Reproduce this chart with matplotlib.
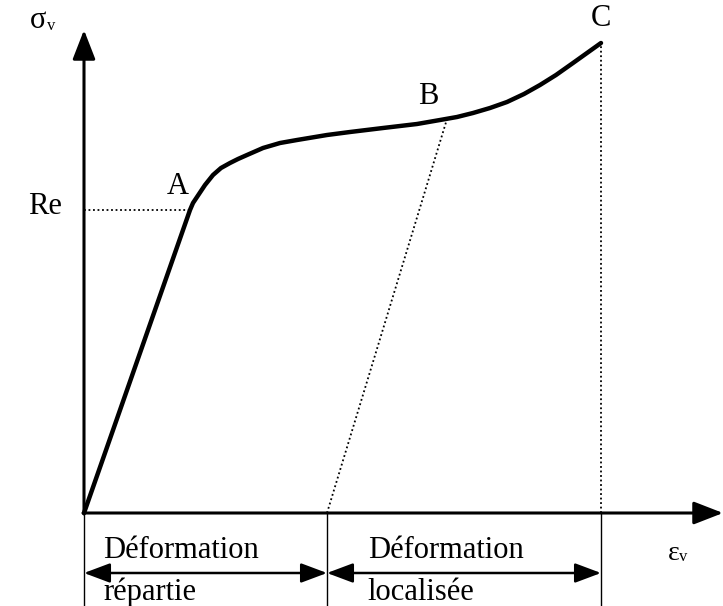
import matplotlib.pyplot as plt

# curve (strain, stress), origin at the axes crossing
strain = [0, 106, 109, 113, 117, 121, 125, 129, 137, 146, 154, 163, 179, 196,
          213, 243, 266, 299, 333, 356, 373, 389, 406, 423, 440, 456, 472,
          489, 503, 517]
stress = [0, 303, 310, 316, 322, 328, 333, 338, 345, 350, 354, 358, 365, 370,
          373, 378, 381, 385, 389, 393, 396, 400, 405, 411, 419, 428, 438,
          450, 460, 470]

pt_A = (106, 303)
pt_B = (363, 394)
pt_C = (517, 470)
x_split = 243          # where the dotted unloading line from B meets the axis

plt.rcParams['font.family'] = ['Liberation Serif', 'DejaVu Serif']

fig = plt.figure(figsize=(7.23, 6.06), dpi=100)
ax = fig.add_axes([0, 0, 1, 1])
ax.set_xlim(-84, 639)
ax.set_ylim(-93, 513)
ax.axis('off')

# axes with arrows
ax.annotate('', xy=(0, 483), xytext=(0, -1),
            arrowprops=dict(arrowstyle='-|>,head_length=0.9,head_width=0.35',
                            lw=2.2, color='black', shrinkA=0, shrinkB=0,
                            mutation_scale=20))
ax.annotate('', xy=(639, 0), xytext=(-1, 0),
            arrowprops=dict(arrowstyle='-|>,head_length=0.9,head_width=0.35',
                            lw=2.2, color='black', shrinkA=0, shrinkB=0,
                            mutation_scale=20))

# stress-strain curve
ax.plot(strain, stress, color='black', lw=3.2, solid_capstyle='round',
        solid_joinstyle='round')

# dotted guide lines
ax.plot([0, pt_A[0]], [pt_A[1], pt_A[1]], color='black', lw=1.3, ls=(0, (1, 1.5)))
ax.plot([x_split, pt_B[0]], [0, pt_B[1]], color='black', lw=1.3, ls=(0, (1, 1.5)))
ax.plot([pt_C[0], pt_C[0]], [0, pt_C[1]], color='black', lw=1.3, ls=(0, (1, 1.5)))

# thin separators below the axis
for xv in [0, x_split, pt_C[0]]:
    ax.plot([xv, xv], [0, -93], color='black', lw=1.0)

# double arrows
arr_y = -60
for x0, x1 in [(0, x_split), (x_split, pt_C[0])]:
    ax.annotate('', xy=(x1, arr_y), xytext=(x0, arr_y),
                arrowprops=dict(arrowstyle='<|-|>,head_length=0.8,head_width=0.3',
                                lw=1.8, color='black', shrinkA=0, shrinkB=0,
                                mutation_scale=20))

fs = 22
ax.text(-46, 493, 'σ', fontsize=fs, ha='center', va='center')
ax.text(-33, 487, 'v', fontsize=12, ha='center', va='center')
ax.text(-39, 307, 'Re', fontsize=fs, ha='center', va='center')
ax.text(94, 326, 'A', fontsize=fs, ha='center', va='center')
ax.text(344, 417, 'B', fontsize=fs, ha='center', va='center')
ax.text(517, 495, 'C', fontsize=fs, ha='center', va='center')
ax.text(590, -40, 'ε', fontsize=20, ha='center', va='center')
ax.text(599, -44, 'v', fontsize=12, ha='center', va='center')

ax.text(19, -38, 'Déformation', fontsize=fs, ha='left', va='center')
ax.text(284, -38, 'Déformation', fontsize=fs, ha='left', va='center')
ax.text(19, -79, 'répartie', fontsize=fs, ha='left', va='center')
ax.text(283, -79, 'localisée', fontsize=fs, ha='left', va='center')

fig.savefig('out.png', dpi=100)
